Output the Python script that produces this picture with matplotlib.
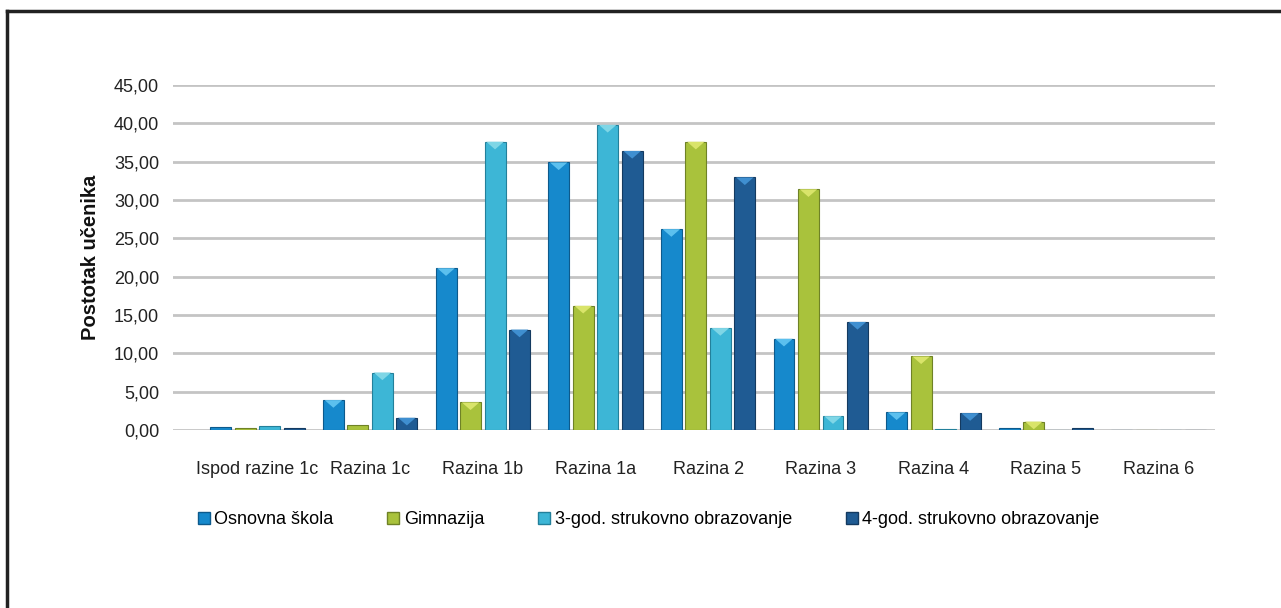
import matplotlib
matplotlib.use("Agg")
import matplotlib.pyplot as plt
from matplotlib.lines import Line2D
from matplotlib.patches import Polygon
from matplotlib.ticker import FuncFormatter
import numpy as np

plt.rcParams['font.family'] = ['Liberation Sans', 'DejaVu Sans']

categories = ["Ispod razine 1c", "Razina 1c", "Razina 1b", "Razina 1a", "Razina 2",
              "Razina 3", "Razina 4", "Razina 5", "Razina 6"]
series_names = ["Osnovna škola", "Gimnazija", "3-god. strukovno obrazovanje",
                "4-god. strukovno obrazovanje"]
osnovna = [0.4, 3.9, 21.1, 34.9, 26.2, 11.9, 2.3, 0.3, 0.0]
gimnazija = [0.2, 0.7, 3.6, 16.2, 37.6, 31.4, 9.6, 1.1, 0.0]
strukovno3 = [0.5, 7.5, 37.6, 39.8, 13.3, 1.8, 0.1, 0.0, 0.0]
strukovno4 = [0.2, 1.6, 13.1, 36.4, 32.95, 14.1, 2.2, 0.2, 0.0]
yticks = [0, 5, 10, 15, 20, 25, 30, 35, 40, 45]

colors = ["#1689cc", "#a9c23c", "#3db6d6", "#1f5b93"]
edges = ["#0d5a8c", "#6f8226", "#23809b", "#143a60"]
lights = ["#5cc0ee", "#d9e46a", "#7fd6e6", "#3f8fd0"]

fig = plt.figure(figsize=(12.81, 6.08), dpi=100)
ax = fig.add_axes([173/1281, (608-430)/608, (1215-173)/1281, (430-85)/608])

x = np.arange(len(categories))
data = [osnovna, gimnazija, strukovno3, strukovno4]
step = 0.2175
width = 0.186
tri_h = 1.0
for k, vals in enumerate(data):
    bars = ax.bar(x + (k - 1.5) * step, vals, width=width, color=colors[k],
                  edgecolor=edges[k], linewidth=0.8, zorder=3)
    for b in bars:
        h = b.get_height()
        if h >= 1.0:
            x0 = b.get_x()
            w = b.get_width()
            ax.add_patch(Polygon([[x0 + w * 0.08, h], [x0 + w * 0.92, h],
                                  [x0 + w / 2, h - tri_h]], closed=True,
                                 facecolor=lights[k], edgecolor='none', zorder=4))

ax.set_xlim(-0.75, 8.5)
ax.set_ylim(0, 45)
ax.set_yticks(yticks)
ax.yaxis.set_major_formatter(FuncFormatter(lambda v, p: f"{v:.2f}".replace(".", ",")))
ax.grid(axis='y', color='#c4c4c4', linewidth=2, zorder=0)
ax.set_axisbelow(True)
for s in ax.spines.values():
    s.set_visible(False)
ax.tick_params(axis='y', length=0, pad=10, labelsize=13, colors='#222222')
ax.tick_params(axis='x', length=0, pad=22, labelsize=13, colors='#222222')
ax.set_xticks(x)
ax.set_xticklabels(categories)
ax.set_ylabel("Postotak učenika", fontsize=14.5, fontweight='bold', labelpad=10, color='#111111')

handles = [Line2D([0], [0], marker='s', linestyle='none', markersize=8,
                  markerfacecolor=colors[k], markeredgecolor=edges[k]) for k in range(4)]
fig.legend(handles, series_names, loc='center', bbox_to_anchor=(648/1281, 1 - 520/608),
           ncol=4, frameon=False, fontsize=13, handletextpad=0.2, columnspacing=2.9,
           handlelength=0.8)

# outer frame (top and left edges)
fig.add_artist(Line2D([7/1281, 1], [1 - 11/608, 1 - 11/608], color='#222222', linewidth=2.5,
                      transform=fig.transFigure))
fig.add_artist(Line2D([7/1281, 7/1281], [0, 1 - 11/608], color='#222222', linewidth=2.5,
                      transform=fig.transFigure))

fig.savefig("out.png", dpi=100)
